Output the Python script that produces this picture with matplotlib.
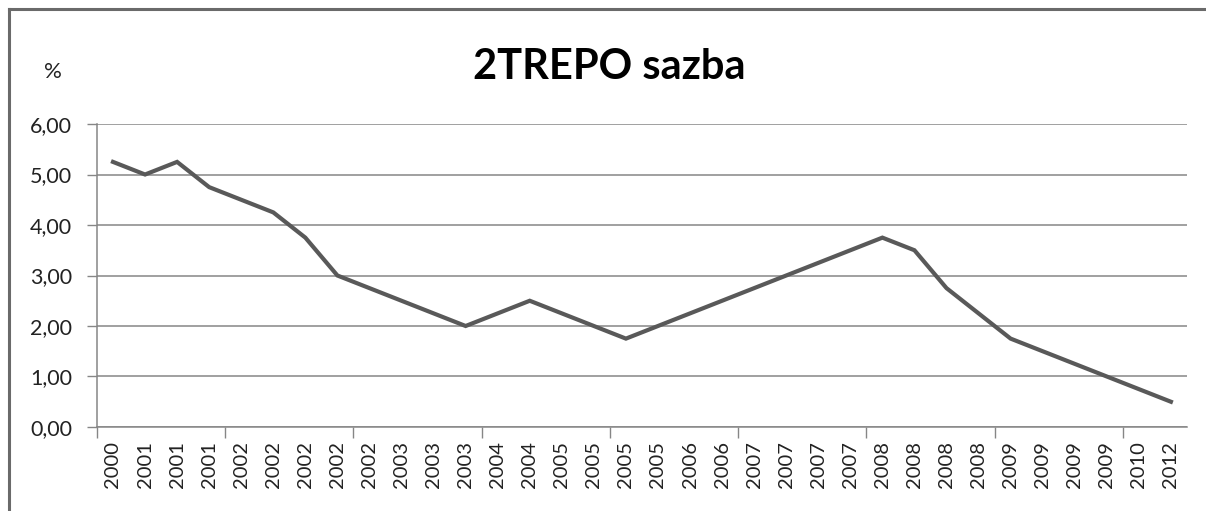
import matplotlib
matplotlib.use("Agg")
import matplotlib.pyplot as plt
from matplotlib.lines import Line2D
from matplotlib.ticker import FixedLocator, FuncFormatter

# DATA
roky = ["2000", "2001", "2001", "2001", "2002", "2002", "2002", "2002",
        "2002", "2003", "2003", "2003", "2004", "2004", "2005", "2005",
        "2005", "2005", "2006", "2006", "2007", "2007", "2007", "2007",
        "2008", "2008", "2008", "2008", "2009", "2009", "2009", "2009",
        "2010", "2012"]
sazba = [5.25, 5.00, 5.25, 4.75, 4.50, 4.25, 3.75, 3.00,
         2.75, 2.50, 2.25, 2.00, 2.25, 2.50, 2.25, 2.00,
         1.75, 2.00, 2.25, 2.50, 2.75, 3.00, 3.25, 3.50,
         3.75, 3.50, 2.75, 2.25, 1.75, 1.50, 1.25, 1.00,
         0.75, 0.50]
y_ticks = [0, 1, 2, 3, 4, 5, 6]
titulek = "2TREPO sazba"

plt.rcParams['font.family'] = ['Lato', 'DejaVu Sans']

fig = plt.figure(figsize=(12.06, 5.11), dpi=100)
ax = fig.add_axes([0.0804, 0.1644, 0.9038, 0.5929])

x = list(range(len(roky)))
ax.plot(x, sazba, color="#595959", linewidth=3.0, solid_joinstyle="miter")

ax.set_xlim(-0.5, len(roky) - 0.5)
ax.set_ylim(0, 6)

# osa y
ax.yaxis.set_major_locator(FixedLocator(y_ticks))
ax.yaxis.set_major_formatter(FuncFormatter(lambda v, p: f"{v:.2f}".replace(".", ",")))
ax.tick_params(axis="y", length=7, width=1, color="#868686", pad=11, labelsize=15.5, labelcolor="#222222")
ax.grid(axis="y", color="#868686", linewidth=1.1)
ax.set_axisbelow(True)

# osa x - popisky na stredech, carky mezi kazdymi 4 kategoriemi
ax.set_xticks(x)
ax.set_xticklabels(roky, rotation=90)
ax.tick_params(axis="x", which="major", length=0, pad=10, labelsize=14.5, labelcolor="#222222")
ax.xaxis.set_minor_locator(FixedLocator([i - 0.5 for i in range(0, len(roky), 4)]))
ax.tick_params(axis="x", which="minor", length=8, width=1, color="#868686")

for s in ["top", "right"]:
    ax.spines[s].set_visible(False)
ax.spines["left"].set_color("#868686")
ax.spines["bottom"].set_color("#868686")
ax.spines["left"].set_linewidth(1.1)
ax.spines["bottom"].set_linewidth(1.1)

# titulek a jednotka
fig.text(609 / 1206, 1 - 79 / 511, titulek, ha="center", va="baseline", fontsize=30, fontweight="bold")
fig.text(53 / 1206, 1 - 72 / 511, "%", ha="center", va="center", fontsize=16, color="#222222")

# ramecek
fig.add_artist(Line2D([9 / 1206, 9 / 1206], [0.0, 1 - 9 / 511], transform=fig.transFigure, color="#6a6a6a", linewidth=2.2))
fig.add_artist(Line2D([9 / 1206, 1.0], [1 - 9 / 511, 1 - 9 / 511], transform=fig.transFigure, color="#6a6a6a", linewidth=2.2))

fig.savefig("out.png", dpi=100)
